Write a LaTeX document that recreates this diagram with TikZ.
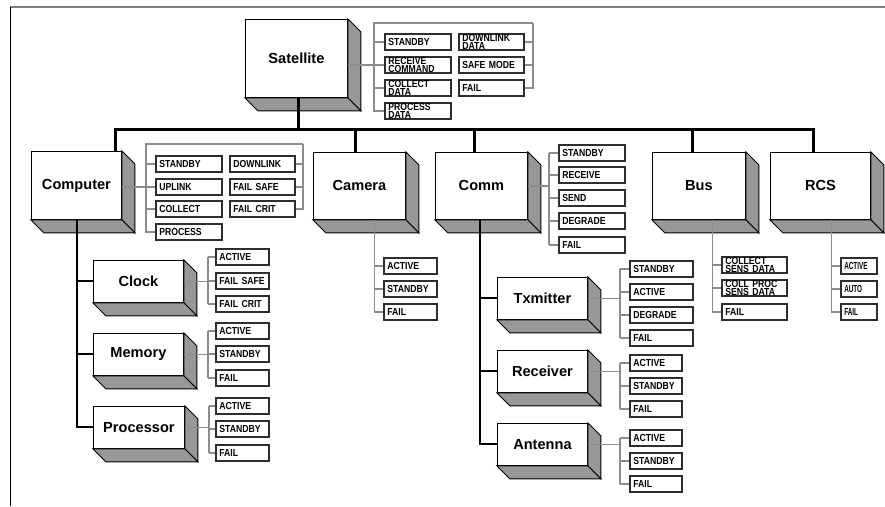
\documentclass[tikz,border=0pt]{standalone}
\usepackage{fontspec}
\setmainfont{Liberation Sans}
\definecolor{sidegray}{HTML}{989898}
\definecolor{linkgray}{HTML}{8C8C8C}
\definecolor{edgedark}{HTML}{2E2E2E}
\definecolor{framegray}{HTML}{7F7F7F}
\newcommand\dep{13}
\newcommand\stfont{\bfseries\addfontfeatures{FakeStretch=0.85}\fontsize{10.2}{8.4}\selectfont}
\newcommand\narrowfont{\bfseries\addfontfeatures{FakeStretch=0.62}\fontsize{10.2}{8.4}\selectfont}
% 3D block: name, left, top, width, height, label
\newcommand\cube[6]{%
  \node[face, minimum width=#4pt, minimum height=#5pt] (#1) at (#2,#3) {#6};
  \draw[side] (#1.north east) -- ++(\dep,\dep) -- ([shift={(\dep,\dep)}]#1.south east) -- (#1.south east) -- cycle;
  \draw[side] (#1.south west) -- ++(\dep,\dep) -- ([shift={(\dep,\dep)}]#1.south east) -- (#1.south east) -- cycle;
}
% state box: name, left, top, width, text
\newcommand\st[5]{%
  \node[stbox, minimum width=#4pt-1.7pt, text width=#4pt-9pt] (#1) at (#2,#3) {#5};
}
\newcommand\stn[5]{%
  \node[stbox, font=\narrowfont, minimum width=#4pt-1.7pt, text width=#4pt-9pt] (#1) at (#2,#3) {#5};
}
\begin{document}
\begin{tikzpicture}[x=1pt,y=-1pt,
  face/.style={draw=black, line width=0.9pt, fill=white, inner sep=0pt, anchor=north west,
    font=\fontsize{14.6}{16}\selectfont\bfseries},
  side/.style={draw=black, line width=0.9pt, fill=sidegray, line join=miter},
  stbox/.style={draw=edgedark, line width=1.7pt, fill=white, anchor=north west,
    xshift=0.85pt, yshift=-0.85pt, minimum height=16.3pt, inner xsep=3pt, inner ysep=0pt,
    align=left, font=\stfont},
  glink/.style={draw=linkgray, line width=1.4pt},
  busline/.style={draw=black, line width=3pt, line join=miter},
  trunk/.style={draw=black, line width=2pt},
]
\useasboundingbox (0,0) rectangle (885,506);

% frame
\draw[framegray, line width=1.5pt] (10,7) -- (885,7);
\draw[black, line width=1pt] (10.5,7) -- (10.5,506);

% blocks
\cube{sat}{245}{19}{102}{78}{Satellite}
\cube{comp}{31}{151}{90}{68}{Computer}
\cube{cam}{313}{152}{92}{67}{Camera}
\cube{comm}{435}{152}{92}{67}{Comm}
\cube{busbox}{652}{152}{93}{67}{Bus}
\cube{rcs}{770}{152}{100}{67}{RCS}
\cube{clock}{93}{260}{90}{42}{Clock}
\cube{mem}{93}{333}{90}{42}{Memory}
\cube{proc}{93}{406}{91}{42}{Processor}
\cube{tx}{497}{277}{90}{42}{Txmitter}
\cube{rx}{497}{350}{90}{42}{Receiver}
\cube{ant}{497}{423}{90}{42}{Antenna}

% Satellite states
\st{s1}{383}{32}{68}{STANDBY}
\st{s2}{383}{55}{68}{RECEIVE\\COMMAND}
\st{s3}{383}{78}{68}{COLLECT\\DATA}
\st{s4}{383}{101}{68}{PROCESS\\DATA}
\st{s5}{457}{32}{67}{DOWNLINK\\DATA}
\st{s6}{457}{55}{67}{SAFE MODE}
\st{s7}{457}{78}{67}{FAIL}
\coordinate (satL) at (374,23);
\coordinate (satR) at (533,23);
\draw[glink] (sat.east |- s2.west) -- (s2.west);
\draw[glink] (satR) -- (satL) |- (s4.west);
\draw[glink] (satR) |- (s7.east);
\foreach \n in {s1,s3} \draw[glink] (\n.west -| satL) -- (\n.west);
\foreach \n in {s5,s6} \draw[glink] (\n.east -| satR) -- (\n.east);

% Computer states
\st{c1}{154}{154}{68}{STANDBY}
\st{c2}{154}{177}{68}{UPLINK}
\st{c3}{154}{199}{68}{COLLECT}
\st{c4}{154}{222}{68}{PROCESS}
\st{c5}{228}{154}{67}{DOWNLINK}
\st{c6}{228}{177}{67}{FAIL SAFE}
\st{c7}{228}{199}{67}{FAIL CRIT}
\coordinate (compL) at (146,144);
\coordinate (compR) at (303,144);
\draw[glink] (comp.east |- c2.west) -- (c2.west);
\draw[glink] (compR) -- (compL) |- (c4.west);
\draw[glink] (compR) |- (c7.east);
\foreach \n in {c1,c3} \draw[glink] (\n.west -| compL) -- (\n.west);
\foreach \n in {c5,c6} \draw[glink] (\n.east -| compR) -- (\n.east);

% Comm states
\st{m1}{557}{143}{68}{STANDBY}
\st{m2}{557}{165}{68}{RECEIVE}
\st{m3}{557}{188}{68}{SEND}
\st{m4}{557}{211}{68}{DEGRADE}
\st{m5}{557}{235}{68}{FAIL}
\coordinate (commS) at (549,152);
\draw[glink] (comm.east) -- (comm.east -| commS);
\draw[glink] (m1.west -| commS) -- (m5.west -| commS);
\foreach \n in {m1,m2,m3,m4,m5} \draw[glink] (\n.west -| commS) -- (\n.west);

% Camera states
\st{a1}{382}{256}{55}{ACTIVE}
\st{a2}{382}{279}{55}{STANDBY}
\st{a3}{382}{302}{55}{FAIL}
\coordinate (camS) at ([xshift=15pt]cam.south);
\draw[glink] (camS) |- (a3.west);
\foreach \n in {a1,a2} \draw[glink] (\n.west -| camS) -- (\n.west);

% Bus states
\st{b1}{720}{255}{67}{COLLECT\\SENS DATA}
\st{b2}{720}{278}{67}{COLL PROC\\SENS DATA}
\st{b3}{720}{302}{67}{FAIL}
\coordinate (busS) at ([xshift=13.5pt]busbox.south);
\draw[glink] (busS) |- (b3.west);
\foreach \n in {b1,b2} \draw[glink] (\n.west -| busS) -- (\n.west);

% RCS states
\stn{r1}{839}{256}{38}{ACTIVE}
\stn{r2}{839}{279}{38}{AUTO}
\stn{r3}{839}{302}{38}{FAIL}
\coordinate (rcsS) at ([xshift=11pt]rcs.south);
\draw[glink] (rcsS) |- (r3.west);
\foreach \n in {r1,r2} \draw[glink] (\n.west -| rcsS) -- (\n.west);

% Clock / Memory / Processor states
\st{k1}{214}{247}{55}{ACTIVE}
\st{k2}{214}{271}{55}{FAIL SAFE}
\st{k3}{214}{294}{55}{FAIL CRIT}
\st{e1}{214}{321}{55}{ACTIVE}
\st{e2}{214}{344}{55}{STANDBY}
\st{e3}{214}{368}{55}{FAIL}
\st{p1}{214}{396}{55}{ACTIVE}
\st{p2}{214}{419}{55}{STANDBY}
\st{p3}{214}{443}{55}{FAIL}
\foreach \b/\u/\v/\w in {clock/k1/k2/k3, mem/e1/e2/e3, proc/p1/p2/p3} {
  \coordinate (spn) at ([xshift=24pt]\b.east);
  \draw[glink] (\b.east) -- (spn);
  \draw[glink] (\u.west -| spn) -- (\w.west -| spn);
  \foreach \n in {\u,\v,\w} \draw[glink] (\n.west -| spn) -- (\n.west);
}

% Txmitter / Receiver / Antenna states
\st{t1}{628}{259}{65}{STANDBY}
\st{t2}{628}{282}{65}{ACTIVE}
\st{t3}{628}{305}{65}{DEGRADE}
\st{t4}{628}{328}{65}{FAIL}
\st{x1}{628}{353}{54}{ACTIVE}
\st{x2}{628}{376}{54}{STANDBY}
\st{x3}{628}{399}{54}{FAIL}
\st{n1}{628}{428}{54}{ACTIVE}
\st{n2}{628}{451}{54}{STANDBY}
\st{n3}{628}{474}{54}{FAIL}
\coordinate (txS) at ([xshift=32pt]tx.east);
\draw[glink] (tx.east) -- (txS);
\draw[glink] (t1.west -| txS) -- (t4.west -| txS);
\foreach \n in {t1,t2,t3,t4} \draw[glink] (\n.west -| txS) -- (\n.west);
\foreach \b/\u/\v/\w in {rx/x1/x2/x3, ant/n1/n2/n3} {
  \coordinate (spn) at ([xshift=32pt]\b.east);
  \draw[glink] (\b.east) -- (spn);
  \draw[glink] (\u.west -| spn) -- (\w.west -| spn);
  \foreach \n in {\u,\v,\w} \draw[glink] (\n.west -| spn) -- (\n.west);
}

% main bus
\coordinate (busL) at (115,129);
\coordinate (busR) at ([xshift=-7pt]rcs.north |- busL);
\draw[busline] (comp.north -| busL) -- (busL) -- (busR) -- (rcs.north -| busR);
\draw[busline] ([xshift=2pt]sat.south) -- ([xshift=2pt]sat.south |- busL);
\draw[busline] ([xshift=-4pt]cam.north) -- ([xshift=-4pt]cam.north |- busL);
\draw[busline] ([xshift=-7pt]comm.north) -- ([xshift=-7pt]comm.north |- busL);
\draw[busline] ([xshift=-6.5pt]busbox.north) -- ([xshift=-6.5pt]busbox.north |- busL);

% sub-unit trunks
\coordinate (compT) at ([xshift=1pt]comp.south);
\draw[trunk] (compT) |- (proc.west);
\draw[trunk] (clock.west -| compT) -- (clock.west);
\draw[trunk] (mem.west -| compT) -- (mem.west);
\coordinate (commT) at ([xshift=-1pt]comm.south);
\draw[trunk] (commT) |- (ant.west);
\draw[trunk] (tx.west -| commT) -- (tx.west);
\draw[trunk] (rx.west -| commT) -- (rx.west);
\end{tikzpicture}
\end{document}
